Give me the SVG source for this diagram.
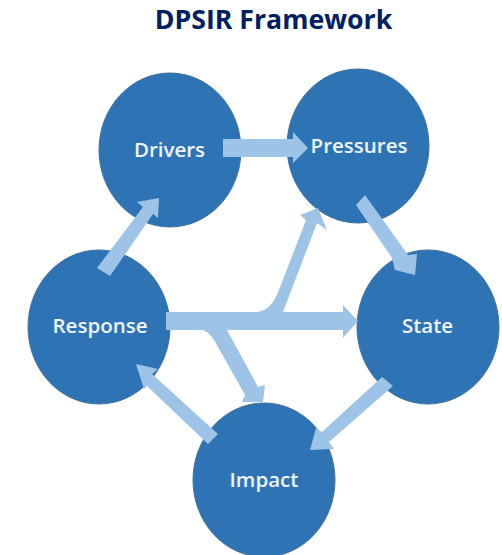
<svg xmlns="http://www.w3.org/2000/svg" width="502" height="555" viewBox="0 0 502 555">
<style>
.n{fill:#2e74b5;stroke:#41719c;stroke-width:1}
.l{font-family:"Open Sans","Liberation Sans",sans-serif;font-size:20.500px;font-weight:600;fill:#eef4fa;text-anchor:middle}
.a{fill:#9dc3e6}
</style>
<rect width="502" height="555" fill="#fff"/>
<text x="273.500" y="29" text-anchor="middle" font-family="'Open Sans','Liberation Sans',sans-serif" font-size="26.700" font-weight="700" fill="#002060">DPSIR Framework</text>
<g id="node-drivers"><ellipse class="n" cx="170" cy="150" rx="71" ry="77"/><text class="l" x="169.500" y="157">Drivers</text></g>
<g id="node-pressures"><ellipse class="n" cx="358" cy="146" rx="71" ry="77"/><text class="l" x="359" y="153">Pressures</text></g>
<g id="node-state"><ellipse class="n" cx="428" cy="327" rx="71" ry="77"/><text class="l" x="427.500" y="333">State</text></g>
<g id="node-response"><ellipse class="n" cx="99" cy="327" rx="71" ry="77"/><text class="l" x="100" y="333">Response</text></g>
<g id="node-impact"><ellipse class="n" cx="264" cy="480" rx="71" ry="77"/><text class="l" x="264" y="487">Impact</text></g>
<g id="connectors">
<polygon class="a" points="223,139 293,139 293,132 308,148 293,163 293,157 223,157"/>
<polygon class="a" points="356,205 365,195 408,255 417,254 415,275 395,270 392,258"/>
<polygon class="a" points="97,268 143,207 137,202 159,198 158,218 153,214 110,276"/>
<path class="a" d="M166,312H258Q270,310 277,295L306,220L300,215L318,208L327,230L317,223L283,312H343V305L358,321L343,338V330H227L258,387L265,385L263,402L242,402L245,395L218,347Q212,334 203,330H166Z"/>
<polygon class="a" points="382,377 393,386 329,442 334,449 310,450 316,428 322,432"/>
<polygon class="a" points="136,364 158,369 152,374 218,434 208,444 147,386 144,389"/>
</g>
</svg>
